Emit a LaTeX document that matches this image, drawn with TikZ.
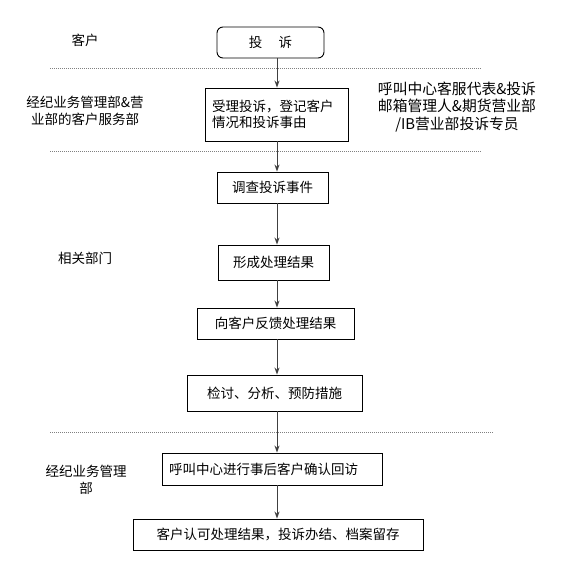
\documentclass[tikz,border=0pt]{standalone}
\usepackage{fontspec}
\newfontfamily\cjk{Noto Sans CJK SC}
\usetikzlibrary{arrows.meta}
\begin{document}
\begin{tikzpicture}[x=1pt,y=-1pt,
  every node/.style={font=\cjk\fontsize{13.5}{16.5}\selectfont, inner sep=0pt},
  box/.style={draw, line width=0.9pt},
  lab/.style={align=center},
  sep/.style={draw=gray, line width=0.8pt, dash pattern=on 1pt off 1pt},
  arr/.style={draw=black!75, line width=0.9pt, -{Stealth[length=7pt,width=5pt]}}]
\useasboundingbox (0,0) rectangle (585,580);
\coordinate (ax) at (277,0);
% separators
\coordinate (s1a) at (50,68);  \coordinate (s1b) at (482,68);
\coordinate (s2a) at (50,151); \coordinate (s2b) at (482,151);
\coordinate (s3a) at (50,432); \coordinate (s3b) at (493,432);
\draw[sep] (s1a) -- (s1b);
\draw[sep] (s2a) -- (s2b);
\draw[sep] (s3a) -- (s3b);
% lane labels
\node[lab] (l1) at (85,40) {客户};
\node[lab] (l2) at (85,111) {经纪业务管理部\&营\\业部的客户服务部};
\node[lab, font=\cjk\fontsize{14.8}{17.2}\selectfont] (l3) at (457,107) {呼叫中心客服代表\&投诉\\邮箱管理人\&期货营业部\\/IB营业部投诉专员};
\node[lab] (l4) at (85,258) {相关部门};
\node[lab] (l5) at (86,480) {经纪业务管理\\部};
% boxes
\node[box, rounded corners=6pt, minimum width=107pt, minimum height=31pt] (n1) at (270.5,42.5) {投\hspace{1.2em}诉};
\node[box, text width=129pt, inner xsep=7pt, align=left, minimum height=53pt] (n2) at (276.5,114.5) {受理投诉，登记客户\\情况和投诉事由};
\node[box, minimum width=111pt, minimum height=31pt] (n3) at (272.5,187.5) {调查投诉事件};
\node[box, minimum width=111pt, minimum height=35pt] (n4) at (273.5,262.5) {形成处理结果};
\node[box, minimum width=157pt, minimum height=31pt] (n5) at (275.5,323.5) {向客户反馈处理结果};
\node[box, minimum width=175pt, minimum height=36pt] (n6) at (274.5,393) {检讨、分析、预防措施};
\node[box, text width=206pt, inner xsep=7pt, align=left, minimum height=32pt] (n7) at (272,469) {呼叫中心进行事后客户确认回访};
\node[box, minimum width=290pt, minimum height=31pt] (n8) at (278,534.5) {客户认可处理结果，投诉办结、档案留存};
% arrows
\draw[arr] (n1.south -| ax) -- (n2.north -| ax);
\draw[arr] (n2.south -| ax) -- (n3.north -| ax);
\draw[arr] (n3.south -| ax) -- (n4.north -| ax);
\draw[arr] (n4.south -| ax) -- (n5.north -| ax);
\draw[arr] (n5.south -| ax) -- (n6.north -| ax);
\draw[arr] (n6.south -| ax) -- (n7.north -| ax);
\draw[arr] (n7.south -| ax) -- (n8.north -| ax);
\end{tikzpicture}
\end{document}
